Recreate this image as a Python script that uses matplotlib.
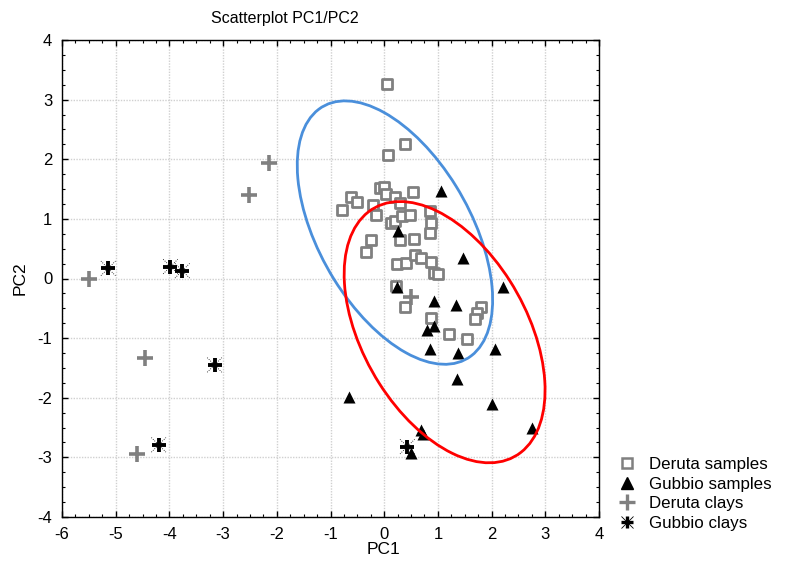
import numpy as np
import matplotlib
matplotlib.use("Agg")
import matplotlib.pyplot as plt
from matplotlib.patches import Ellipse
from matplotlib.lines import Line2D

plt.rcParams['font.family'] = ['Liberation Sans', 'DejaVu Sans']
plt.rcParams['axes.unicode_minus'] = False

# ---- data (PC1, PC2) ----
deruta_samples_x = [0.06, 0.39, 0.08, -0.08, -0.00, 0.04, 0.20, 0.30, 0.53, -0.62, -0.50,
                    -0.79, -0.21, -0.16, 0.13, 0.21, 0.33, 0.48, 0.86, 0.88, 0.85, 0.30,
                    0.56, -0.25, -0.34, 0.23, 0.41, 0.57, 0.69, 0.87, 0.93, 1.01, 0.22,
                    0.38, 0.88, 1.21, 1.54, 1.80, 1.73, 1.69]
deruta_samples_y = [3.26, 2.25, 2.07, 1.52, 1.54, 1.41, 1.36, 1.26, 1.45, 1.37, 1.28,
                    1.15, 1.23, 1.07, 0.93, 0.96, 1.04, 1.06, 1.13, 0.93, 0.77, 0.65,
                    0.67, 0.65, 0.45, 0.25, 0.26, 0.40, 0.34, 0.27, 0.10, 0.08, -0.12,
                    -0.47, -0.67, -0.93, -1.02, -0.48, -0.58, -0.68]

gubbio_samples_x = [1.05, 0.25, 0.23, 0.93, 1.33, 1.46, 2.21, 0.93, 0.79, 0.85, 1.38,
                    2.07, 1.35, -0.66, 2.00, 2.76, 0.68, 0.73, 0.50]
gubbio_samples_y = [1.46, 0.80, -0.15, -0.37, -0.44, 0.34, -0.15, -0.79, -0.86, -1.19, -1.25,
                    -1.19, -1.68, -1.98, -2.11, -2.50, -2.54, -2.60, -2.93]

deruta_clays_x = [0.50, -5.50, -2.52, -2.14, -4.46, -4.61]
deruta_clays_y = [-0.31, -0.01, 1.40, 1.94, -1.33, -2.95]

gubbio_clays_x = [-5.14, -3.98, -3.76, -3.16, -4.20, 0.43]
gubbio_clays_y = [0.17, 0.20, 0.13, -1.45, -2.79, -2.82]

# confidence ellipses: centre and shape matrix [[sxx, sxy], [sxy, syy]]
deruta_ellipse_center = (0.20, 0.77)
deruta_ellipse_shape = [[3.31, -2.05], [-2.05, 4.88]]
gubbio_ellipse_center = (1.125, -0.90)
gubbio_ellipse_shape = [[3.50, -1.82], [-1.82, 4.80]]

xticks = [-6, -5, -4, -3, -2, -1, 0, 1, 2, 3, 4]
yticks = [-4, -3, -2, -1, 0, 1, 2, 3, 4]

# ---- figure ----
fig = plt.figure(figsize=(7.85, 5.64), dpi=100)
ax = fig.add_axes([62/785, 1-517/564, (599-62)/785, (517-40)/564])

def add_ellipse(ax, center, shape, color):
    vals, vecs = np.linalg.eigh(np.array(shape))
    order = vals.argsort()[::-1]
    vals, vecs = vals[order], vecs[:, order]
    angle = np.degrees(np.arctan2(vecs[1, 0], vecs[0, 0]))
    e = Ellipse(center, 2*np.sqrt(vals[0]), 2*np.sqrt(vals[1]), angle=angle,
                facecolor='none', edgecolor=color, lw=2.0, zorder=4)
    ax.add_patch(e)

ax.scatter(deruta_samples_x, deruta_samples_y, marker='s', s=62, facecolors='white',
           edgecolors='#808080', linewidths=2.0, zorder=3)
ax.scatter(gubbio_samples_x, gubbio_samples_y, marker='^', s=75, color='black',
           linewidths=0, zorder=3)
ax.scatter(deruta_clays_x, deruta_clays_y, marker='+', s=130, color='#808080',
           linewidths=2.6, zorder=3)
ax.scatter(gubbio_clays_x, gubbio_clays_y, marker='+', s=90, color='black',
           linewidths=2.8, zorder=3)
ax.scatter(gubbio_clays_x, gubbio_clays_y, marker='x', s=110, color='black',
           linewidths=0.6, linestyle=':', zorder=3)

add_ellipse(ax, deruta_ellipse_center, deruta_ellipse_shape, '#4a8fdb')
add_ellipse(ax, gubbio_ellipse_center, gubbio_ellipse_shape, '#ff0000')

ax.set_xlim(-6, 4)
ax.set_ylim(-4, 4)
ax.set_xticks(xticks)
ax.set_yticks(yticks)
ax.set_xticks(np.arange(-6, 4.01, 0.25), minor=True)
ax.set_yticks(np.arange(-4, 4.01, 0.25), minor=True)
ax.tick_params(which='both', direction='in', top=True, right=True, labelsize=12,
               color='black')
ax.tick_params(which='major', length=4, width=1, pad=7)
ax.tick_params(which='minor', length=2.5, width=0.8)
ax.grid(True, which='major', color='#d0d0d0', linestyle=(0, (1, 1)), linewidth=1.0)
ax.set_axisbelow(True)
for sp in ax.spines.values():
    sp.set_linewidth(1.0)
    sp.set_color('black')

ax.set_xlabel('PC1', fontsize=12.5)
ax.xaxis.set_label_coords((384-62)/537, -(549-517)/477, transform=ax.transAxes)
ax.xaxis.label.set_va('center')
ax.set_ylabel('PC2', fontsize=12.5)
ax.yaxis.set_label_coords(-(62-20)/537, 0.5, transform=ax.transAxes)
ax.yaxis.label.set_va('center')
fig.text(285/785, 1-18/564, 'Scatterplot PC1/PC2', ha='center', va='center', fontsize=11.5)

# legend
h1 = Line2D([], [], marker='s', ls='none', markersize=7, markerfacecolor='white',
            markeredgecolor='#808080', markeredgewidth=1.8)
h2 = Line2D([], [], marker='^', ls='none', markersize=8, color='black')
h3 = Line2D([], [], marker='+', ls='none', markersize=11, color='#808080', markeredgewidth=2.4)
h4a = Line2D([], [], marker='+', ls='none', markersize=8, color='black', markeredgewidth=2.4)
h4b = Line2D([], [], marker='x', ls='none', markersize=9, color='black', markeredgewidth=0.6)
fig.legend([h1, h2, h3, (h4a, h4b)],
           ['Deruta samples', 'Gubbio samples', 'Deruta clays', 'Gubbio clays'],
           loc='upper left', bbox_to_anchor=(612/785, 1-450/564), frameon=False,
           fontsize=12.2, handlelength=1.0, handletextpad=0.8, labelspacing=0.28,
           borderaxespad=0)

fig.savefig('out.png', dpi=100)
